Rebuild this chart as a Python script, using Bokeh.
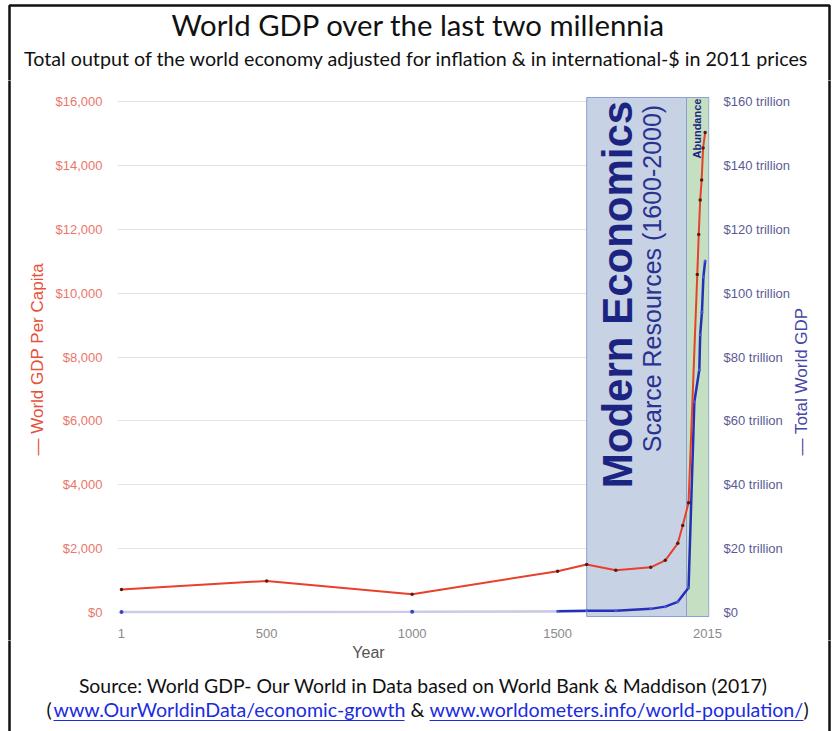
import math
from bokeh.plotting import figure
from bokeh.layouts import column, row
from bokeh.models import (Range1d, LinearAxis, FixedTicker, NumeralTickFormatter, Label)
from bokeh.embed import file_html
from bokeh.resources import INLINE

# ---------------- data ----------------
red_years = [1, 500, 1000, 1500, 1600, 1700, 1820, 1870, 1913, 1930, 1950,
             1980, 1985, 1990, 1995, 2000, 2007]
gdp_per_capita = [725, 995, 578, 1297, 1506, 1328, 1420, 1640, 2170, 2730, 3440,
                  10580, 11830, 12910, 13540, 14540, 15025]

blue_years = [1500, 1600, 1700, 1820, 1870, 1913, 1950, 1970, 1987, 1990, 1996,
              2001, 2007]
world_gdp_trillion = [0.43, 0.6, 0.64, 1.2, 1.9, 3.4, 7.8, 66, 76, 87, 94, 105, 110]

early_years = [1, 1000, 1500]
early_gdp_trillion = [0.2, 0.27, 0.43]
early_dot_years = [1, 1000]
early_dot_gdp = [0.2, 0.27]

x_ticks = [1, 500, 1000, 1500, 2015]
left_ticks = [0, 2000, 4000, 6000, 8000, 10000, 12000, 14000, 16000]
right_ticks = [0, 20, 40, 60, 80, 100, 120, 140, 160]
right_tick_labels = {t: ("$0" if t == 0 else f"${t} trillion") for t in right_ticks}

modern_era = (1600, 1943)
abundance_era = (1943, 2020)

title_text = "World GDP over the last two millennia"
subtitle_text = ("Total output of the world economy adjusted for inflation & "
                 "in international-$ in 2011 prices")
source_text = "Source: World GDP- Our World in Data based on World Bank & Maddison (2017)"
link1 = "www.OurWorldinData/economic-growth"
link2 = "www.worldometers.info/world-population/"
left_title = "\u2014 World GDP Per Capita"
right_title = "\u2014 Total World GDP"

# ---------------- layout constants (canvas pixels) ----------------
W, H = 839, 731
TOP_H, MID_H = 80, 560
BOT_H = H - TOP_H - MID_H
LSTRIP, RSTRIP = 50, 47
MAIN_W = W - LSTRIP - RSTRIP
FL, FR, FT, FB = 117, 710, 96, 617
X0, X1 = -12.7, 2022.0
Y0, Y1 = -150.0, 16150.0
T0, T1 = -1.5, 161.5
BORDER_L, BORDER_R, BORDER_T = 9, 829, 5
BORDER_COLOR = "#111111"
BORDER_W = 2.5
EXT = 6  # let border pieces run past each strip's edge so they join up


def blank(width, height, x_off, y_off):
    f = figure(width=width, height=height, output_backend="svg", toolbar_location=None,
               x_range=Range1d(x_off, x_off + width),
               y_range=Range1d(-(y_off + height), -y_off),
               x_axis_type=None, y_axis_type=None, frame_align=False,
               min_border=0, min_border_left=0, min_border_right=0,
               min_border_top=0, min_border_bottom=0)
    f.outline_line_color = None
    f.grid.visible = False
    f.background_fill_color = "white"
    f.border_fill_color = "white"
    return f


def put(f, x, y, text, size, color, font="Lato", align="center", angle=0.0, style="normal",
        baseline="middle"):
    f.add_layout(Label(x=x, y=-y, text=text, text_align=align, text_baseline=baseline,
                       angle=angle, text_font=font, text_font_size=size,
                       text_color=color, text_font_style=style))


# ---------------- top strip: titles ----------------
top = blank(W, TOP_H, 0, 0)
put(top, 418, 24, title_text, "29.3px", "#111111")
put(top, 416, 58, subtitle_text, "19.7px", "#111111")
top.line([BORDER_L, BORDER_L, BORDER_R, BORDER_R],
         [-(TOP_H + EXT), -BORDER_T, -BORDER_T, -(TOP_H + EXT)],
         line_color=BORDER_COLOR, line_width=BORDER_W)

# ---------------- left / right strips: axis titles ----------------
lstrip = blank(LSTRIP, MID_H, 0, TOP_H)
put(lstrip, 37, 455, left_title, "17px", "#e8503a", font="Liberation Sans", align="left",
    angle=math.pi / 2)
lstrip.line([BORDER_L, BORDER_L], [-(TOP_H - EXT), -(TOP_H + MID_H + EXT)],
            line_color=BORDER_COLOR, line_width=BORDER_W)

rstrip = blank(RSTRIP, MID_H, W - RSTRIP, TOP_H)
put(rstrip, 801, 455, right_title, "17px", "#4646a6", font="Liberation Sans", align="left",
    angle=math.pi / 2)
rstrip.line([BORDER_R, BORDER_R], [-(TOP_H - EXT), -(TOP_H + MID_H + EXT)],
            line_color=BORDER_COLOR, line_width=BORDER_W)

# ---------------- main chart ----------------
p = figure(width=MAIN_W, height=MID_H, output_backend="svg", toolbar_location=None,
           x_range=Range1d(X0, X1), y_range=Range1d(Y0, Y1), frame_align=False,
           min_border_left=FL - LSTRIP, min_border_right=LSTRIP + MAIN_W - FR,
           min_border_top=FT - TOP_H, min_border_bottom=TOP_H + MID_H - FB)
p.extra_y_ranges = {"total": Range1d(T0, T1)}
p.outline_line_color = None
p.background_fill_color = "white"
p.border_fill_color = "white"

p.xgrid.visible = False
p.ygrid.ticker = FixedTicker(ticks=left_ticks)
p.ygrid.grid_line_color = "#e3e3e3"
p.ygrid.grid_line_width = 1

ya = p.yaxis[0]
ya.ticker = FixedTicker(ticks=left_ticks)
ya.formatter = NumeralTickFormatter(format="$0,0")
ya.axis_line_color = None
ya.major_tick_line_color = None
ya.minor_tick_line_color = None
ya.major_label_text_color = "#e8776c"
ya.major_label_text_font = "Liberation Sans"
ya.major_label_text_font_size = "13px"
ya.major_label_standoff = 9

ra = LinearAxis(y_range_name="total", ticker=FixedTicker(ticks=right_ticks),
                major_label_overrides=right_tick_labels)
ra.axis_line_color = None
ra.major_tick_line_color = None
ra.minor_tick_line_color = None
ra.major_label_text_color = "#5b5b95"
ra.major_label_text_font = "Liberation Sans"
ra.major_label_text_font_size = "13px"
ra.major_label_standoff = 8
p.add_layout(ra, "right")

xa = p.xaxis[0]
xa.ticker = FixedTicker(ticks=x_ticks)
xa.axis_line_color = None
xa.major_tick_line_color = None
xa.minor_tick_line_color = None
xa.major_label_text_color = "#8a8a8a"
xa.major_label_text_font = "Liberation Sans"
xa.major_label_text_font_size = "13px"
xa.major_label_standoff = 5

p.quad(left=[modern_era[0]], right=[modern_era[1]], bottom=[-120], top=[16120],
       fill_color="#c7d2e4", line_color="#8e9bd2", line_width=1)
p.quad(left=[abundance_era[0]], right=[abundance_era[1]], bottom=[-120], top=[16120],
       fill_color="#c4dfc1", line_color="#8e9bd2", line_width=1)

p.line(early_years, early_gdp_trillion, y_range_name="total",
       line_color="#c9cbe8", line_width=2.5)
p.scatter(early_dot_years, early_dot_gdp, y_range_name="total", size=4,
          fill_color="#3a44c0", line_color=None)
p.line(blue_years, world_gdp_trillion, y_range_name="total",
       line_color="#2430b6", line_width=2.5)
p.scatter(blue_years, world_gdp_trillion, y_range_name="total", size=3,
          fill_color="#4a58e0", line_color=None)
p.line(red_years, gdp_per_capita, line_color="#e8402a", line_width=2)
p.scatter(red_years, gdp_per_capita, size=3.5, fill_color="#5a1a14", line_color=None)


def dx(px):
    return X0 + (px - FL) * (X1 - X0) / (FR - FL)


def dy(py):
    return Y0 + (FB - py) * (Y1 - Y0) / (FB - FT)


for x, y, txt, size, style, col in [
        (618, 294, "Modern Economics", "42px", "bold", "#1c2482"),
        (652, 278, "Scarce Resources (1600-2000)", "25px", "normal", "#2a3290"),
        (697, 128, "Abundance", "11px", "bold", "#1c2482")]:
    p.add_layout(Label(x=dx(x), y=dy(y), text=txt, angle=math.pi / 2, text_align="center",
                       text_baseline="middle", text_font="Liberation Sans",
                       text_font_style=style, text_font_size=size, text_color=col))

# ---------------- bottom strip: x title and source ----------------
bot = blank(W, BOT_H, 0, TOP_H + MID_H)
put(bot, 368, 652, "Year", "16px", "#555555", font="Liberation Sans")
put(bot, 423, 685, source_text, "19.4px", "#111111")
put(bot, 46, 709, "(", "19.6px", "#111111", align="left")
put(bot, 53, 709, link1, "19.6px", "#1a2be0", align="left")
put(bot, 410, 709, "&", "19.6px", "#111111", align="left")
put(bot, 429, 709, link2, "19.6px", "#1a2be0", align="left")
put(bot, 803, 709, ")", "19.6px", "#111111", align="left")
bot.segment(x0=[53, 429], y0=[-720, -720], x1=[404, 803], y1=[-720, -720],
            line_color="#1a2be0", line_width=1.2)
bot.segment(x0=[BORDER_L, BORDER_R], y0=[-(TOP_H + MID_H - EXT)] * 2,
            x1=[BORDER_L, BORDER_R], y1=[-(H + EXT)] * 2,
            line_color=BORDER_COLOR, line_width=BORDER_W)

layout = column(top, row(lstrip, p, rstrip), bot)
open("out.html", "w").write(file_html(layout, INLINE))
